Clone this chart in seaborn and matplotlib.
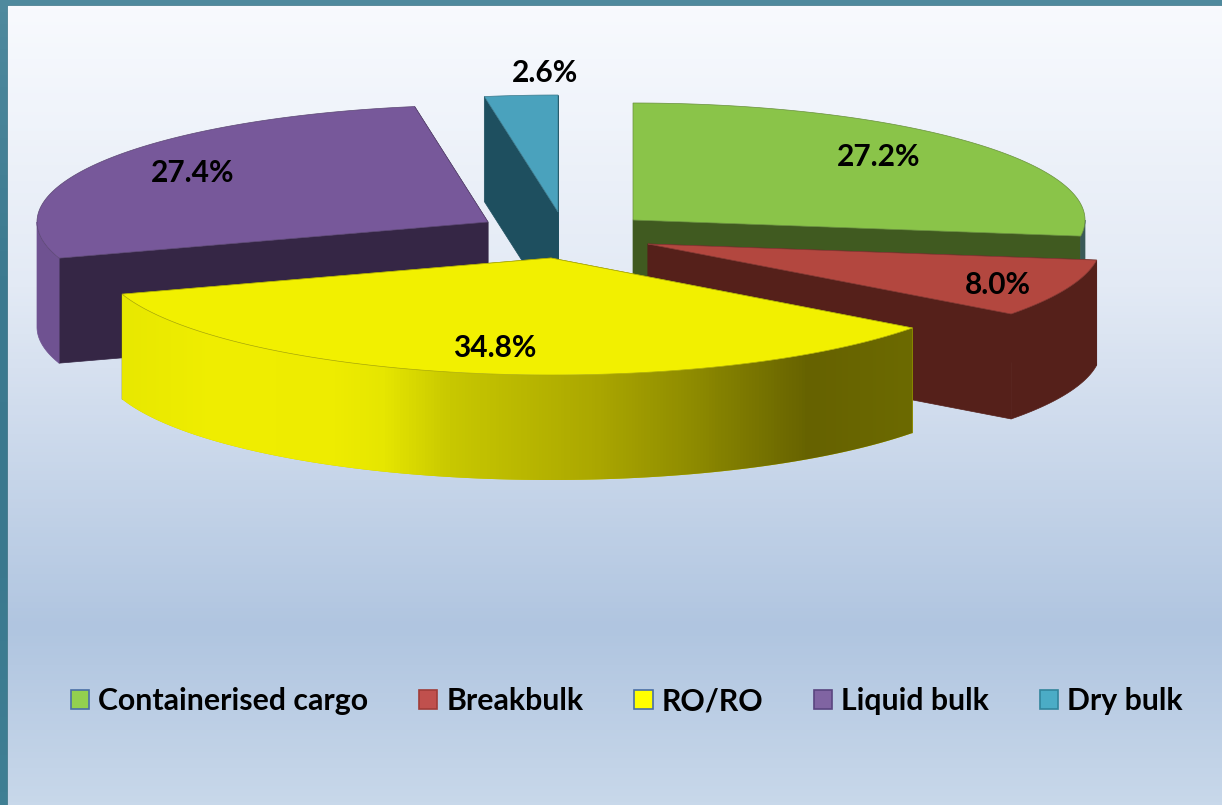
import numpy as np
import matplotlib
matplotlib.use('Agg')
import matplotlib.pyplot as plt
import seaborn as sns
from matplotlib.colors import LinearSegmentedColormap
from matplotlib.patches import Patch, PathPatch, Polygon
from matplotlib.path import Path

# Data
categories = ['Containerised cargo', 'Breakbulk', 'RO/RO', 'Liquid bulk', 'Dry bulk']
shares = [27.2, 8.0, 34.8, 27.4, 2.6]

# Colours per slice
top_colors = sns.color_palette(['#8ac449', '#b3473f', '#f2f000', '#77589a', '#4aa2bd'])
face_colors = sns.color_palette(['#405a20', '#55201a', '#8a8a00', '#352645', '#1e4f5f'])
wall_colors = sns.color_palette(['#3a5a58', '#55201a', '#c8c800', '#6f5291', '#1e4f5f'])
legend_colors = sns.color_palette(['#93d04f', '#c0504d', '#ffff00', '#8064a2', '#4bacc6'])
legend_edges = ['#4a6fa5', '#a03c38', '#4a6fa5', '#5a4580', '#31859c']

# Layout, in pixels of the reference
width, height = 1222, 805
apex_x = [633, 648, 551, 488, 558]
apex_y = [220, 244, 258, 222, 212]
radii_x = [452, 453, 451, 451, 453]
radius_y = 117
depth = 105
label_x = [879, 998, 495, 193, 545]
label_y = [157, 285, 348, 173, 73]

sns.set_theme(style='white')
plt.rcParams['font.family'] = ['Lato', 'DejaVu Sans']

fig = plt.figure(figsize=(width / 100, height / 100), dpi=100)
ax = fig.add_axes([0, 0, 1, 1])
ax.axis('off')

# Slide border and panel background
ax.imshow(np.linspace(0, 1, 64).reshape(-1, 1), extent=[0, width, height, 0], aspect='auto', zorder=0,
          cmap=LinearSegmentedColormap.from_list('border', ['#4f8a9e', '#3c7a90', '#3a788e', '#3f7f94']))
panel_cmap = LinearSegmentedColormap.from_list('panel', [(0, '#f8fafe'), (0.35, '#e3eaf5'), (0.78, '#b0c5e0'), (1, '#c8d8ea')])
ax.add_patch(plt.Rectangle((7.5, 6.5), width, height, fc='none', ec='#9a9a9a', lw=1, zorder=1))
ax.imshow(np.linspace(0, 1, 256).reshape(-1, 1), extent=[8, width, height, 7], aspect='auto', zorder=1, cmap=panel_cmap)


def rim(cx, cy, rx, a, b):
    # points on the ellipse from angle a to b, clockwise from 12 o'clock
    t = np.radians(np.linspace(a, b, max(int(abs(b - a) * 2), 2)))
    return np.column_stack([cx + rx * np.sin(t), cy - radius_y * np.cos(t)])


def cut_face(cx, cy, rx, angle):
    p = rim(cx, cy, rx, angle, angle)[0]
    return [(cx, cy), p, (p[0], p[1] + depth), (cx, cy + depth)]


def outer_wall(cx, cy, rx, a, b):
    lo, hi = max(a, 90), min(b, 270)
    if hi <= lo:
        return None
    arc = rim(cx, cy, rx, lo, hi)
    return np.vstack([arc, arc[::-1] + [0, depth]])


# Slices, back to front
bounds = np.concatenate([[0], np.cumsum(shares)]) / sum(shares) * 360
z = 3
for i in [4, 0, 3, 1, 2]:
    a, b = bounds[i], bounds[i + 1]
    cx, cy, rx = apex_x[i], apex_y[i], radii_x[i]
    faces = [b, a] if (a + b) / 2 > 180 else [a, b]
    for angle in faces:
        ax.add_patch(Polygon(cut_face(cx, cy, rx, angle), fc=face_colors[i], ec=face_colors[i], lw=0.5, zorder=z))
    wall = outer_wall(cx, cy, rx, a, b)
    if wall is not None:
        patch = Polygon(wall, fc=wall_colors[i], ec='none' if categories[i] == 'RO/RO' else wall_colors[i], lw=0.5, zorder=z)
        ax.add_patch(patch)
        if categories[i] == 'RO/RO':
            # the long RO/RO wall fades from yellow to olive
            yellow_cmap = LinearSegmentedColormap.from_list('wall', [(0, '#e8e800'), (0.12, '#f0ee00'), (0.27, '#eeec00'),
                                                                     (0.33, '#e6e600'), (0.415, '#c8c800'), (0.605, '#aaa600'),
                                                                     (0.72, '#8f8c00'), (0.87, '#666200'), (1, '#6c6a00')])
            grad = ax.imshow(np.linspace(0, 1, 256).reshape(1, -1), cmap=yellow_cmap, aspect='auto', zorder=z,
                             extent=[wall[:, 0].min(), wall[:, 0].max(), wall[:, 1].max(), wall[:, 1].min()])
            grad.set_clip_path(patch)
    top = np.vstack([[(cx, cy)], rim(cx, cy, rx, a, b)])
    edge = sns.dark_palette(top_colors[i], n_colors=4)[2]
    ax.add_patch(PathPatch(Path(np.vstack([top, top[:1]])), fc=top_colors[i], ec=edge, lw=0.5, zorder=z))
    z += 1

ax.set_xlim(0, width)
ax.set_ylim(height, 0)

# Percent labels
for i, v in enumerate(shares):
    ax.text(label_x[i], label_y[i], f'{v:.1f}%', ha='center', va='center', fontsize=21.5, fontweight='bold', color='black', zorder=20)

# Legend
handles = [Patch(fc=legend_colors[i], ec=legend_edges[i], lw=1.2, label=categories[i]) for i in range(len(categories))]
leg = ax.legend(handles=handles, ncol=5, loc='center', bbox_to_anchor=(627 / width, 1 - 701 / height), frameon=False,
                prop={'size': 21.8, 'weight': 'bold'}, labelcolor='black', handlelength=0.6, handleheight=0.6,
                handletextpad=0.3, columnspacing=1.68, borderpad=0, borderaxespad=0)
leg.set_zorder(20)

plt.savefig('out.png', dpi=100)
plt.clf()
